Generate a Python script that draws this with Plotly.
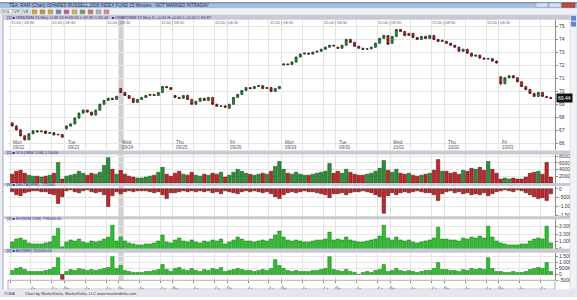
import plotly.graph_objects as go

W, H = 577, 300

# ---------------- data ----------------
day_names = ["Mon", "Tue", "Wed", "Thu", "Fri", "Mon", "Tue", "Wed", "Thu", "Fri"]
day_dates = ["09/22", "09/23", "09/24", "09/25", "09/26", "09/29", "09/30", "10/01", "10/02", "10/03"]
session_times = ["08:30", "09:00", "09:30", "10:00", "10:30", "11:00", "11:30",
                 "12:00", "12:30", "13:00", "13:30", "14:00", "14:30"]
grid_times = ["08:30", "11:00", "13:30"]
top_label = "15:00 | 08:30"

opens = [
    67.55, 67.31, 67.01, 66.56, 66.25, 66.71, 66.94, 66.86, 66.92, 66.74, 66.80, 66.62, 66.66,
    67.09, 67.31, 67.47, 67.92, 68.30, 68.53, 68.38, 68.15, 68.53, 68.98, 69.28, 69.44, 69.36,
    70.19, 69.89, 69.66, 69.44, 69.13, 69.36, 69.51, 69.66, 69.74, 69.66, 69.89, 70.35, 70.27,
    69.66, 69.51, 69.44, 69.66, 69.36, 68.98, 69.21, 69.44, 69.28, 69.51, 68.98, 68.83, 68.86,
    68.68, 68.98, 69.51, 69.74, 70.04, 70.27, 70.19, 70.35, 70.42, 70.19, 70.27, 69.97, 70.19,
    72.01, 72.09, 72.05, 72.24, 72.62, 72.85, 72.92, 72.85, 73.00, 73.07, 73.22, 73.38, 73.53,
    73.38, 73.30, 73.53, 73.98, 73.75, 73.45, 73.30, 73.22, 73.26, 73.38, 73.68, 74.06, 74.28,
    73.68, 74.21, 74.74, 74.59, 74.28, 74.44, 74.13, 73.98, 74.21, 74.06, 74.28, 73.98, 73.83,
    73.83, 73.68, 73.53, 73.38, 73.07, 73.22, 72.92, 72.69, 72.77, 72.54, 72.47, 72.50, 72.31,
    71.10, 70.57, 71.03, 71.18, 71.03, 70.72, 70.35, 70.12, 69.82, 69.59, 69.89, 69.59, 69.51,
]
highs = [
    67.62, 67.40, 67.08, 66.60, 66.75, 67.00, 66.98, 66.97, 66.95, 66.84, 66.83, 66.70, 66.68,
    67.36, 67.52, 67.98, 68.36, 68.60, 68.57, 68.42, 68.58, 69.04, 69.33, 69.50, 69.48, 69.64,
    70.25, 69.95, 69.70, 69.48, 69.40, 69.56, 69.70, 69.79, 69.78, 69.93, 70.41, 70.40, 70.31,
    69.72, 69.56, 69.70, 69.71, 69.40, 69.25, 69.49, 69.48, 69.56, 69.55, 69.03, 68.91, 68.90,
    69.03, 69.56, 69.79, 70.09, 70.32, 70.31, 70.40, 70.47, 70.46, 70.32, 70.31, 70.24, 70.40,
    72.14, 72.13, 72.29, 72.67, 72.90, 72.97, 72.96, 73.05, 73.12, 73.27, 73.43, 73.58, 73.57,
    73.43, 73.58, 74.03, 74.04, 73.80, 73.50, 73.35, 73.30, 73.42, 73.73, 74.11, 74.34, 74.32,
    74.26, 74.80, 74.79, 74.64, 74.49, 74.49, 74.18, 74.26, 74.26, 74.33, 74.33, 74.03, 73.96,
    73.88, 73.73, 73.58, 73.43, 73.27, 73.27, 72.97, 72.82, 72.82, 72.59, 72.55, 72.55, 72.36,
    71.15, 71.08, 71.23, 71.23, 71.08, 70.77, 70.40, 70.17, 69.87, 69.94, 69.94, 69.64, 69.56,
]
lows = [
    67.28, 66.97, 66.50, 66.18, 66.22, 66.68, 66.82, 66.83, 66.70, 66.71, 66.58, 66.60, 66.40,
    67.02, 67.25, 67.42, 67.88, 68.26, 68.33, 68.10, 68.12, 68.49, 68.94, 69.24, 69.31, 69.33,
    69.85, 69.61, 69.40, 69.07, 69.09, 69.32, 69.47, 69.62, 69.61, 69.62, 69.85, 70.22, 70.07,
    69.46, 69.39, 69.40, 69.31, 68.93, 68.94, 69.17, 69.23, 69.24, 68.93, 68.78, 68.79, 68.70,
    68.62, 68.93, 69.46, 69.70, 70.00, 70.15, 70.15, 70.31, 70.15, 70.15, 69.92, 69.93, 70.14,
    71.96, 72.00, 72.01, 72.20, 72.58, 72.81, 72.81, 72.81, 72.96, 73.03, 73.18, 73.34, 73.44,
    73.25, 73.26, 73.49, 73.70, 73.40, 73.25, 73.17, 73.18, 73.22, 73.34, 73.63, 74.02, 73.55,
    73.63, 74.16, 74.54, 74.23, 74.24, 74.08, 73.93, 73.93, 74.01, 74.01, 73.93, 73.78, 73.78,
    73.63, 73.48, 73.33, 73.02, 73.02, 72.87, 72.64, 72.64, 72.49, 72.42, 72.42, 72.26, 72.11,
    70.45, 70.52, 70.98, 70.98, 70.67, 70.30, 70.07, 69.77, 69.54, 69.54, 69.54, 69.46, 69.39,
]
closes = [
    67.31, 67.01, 66.56, 66.25, 66.71, 66.94, 66.86, 66.92, 66.74, 66.80, 66.62, 66.66, 66.45,
    67.31, 67.47, 67.92, 68.30, 68.53, 68.38, 68.15, 68.53, 68.98, 69.28, 69.44, 69.36, 69.59,
    69.89, 69.66, 69.44, 69.13, 69.36, 69.51, 69.66, 69.74, 69.66, 69.89, 70.35, 70.27, 70.12,
    69.51, 69.44, 69.66, 69.36, 68.98, 69.21, 69.44, 69.28, 69.51, 68.98, 68.83, 68.86, 68.75,
    68.98, 69.51, 69.74, 70.04, 70.27, 70.19, 70.35, 70.42, 70.19, 70.27, 69.97, 70.19, 70.35,
    72.09, 72.05, 72.24, 72.62, 72.85, 72.92, 72.85, 73.00, 73.07, 73.22, 73.38, 73.53, 73.48,
    73.30, 73.53, 73.98, 73.75, 73.45, 73.30, 73.22, 73.26, 73.38, 73.68, 74.06, 74.28, 73.60,
    74.21, 74.74, 74.59, 74.28, 74.44, 74.13, 73.98, 74.21, 74.06, 74.28, 73.98, 73.83, 73.91,
    73.68, 73.53, 73.38, 73.07, 73.22, 72.92, 72.69, 72.77, 72.54, 72.47, 72.50, 72.31, 72.16,
    70.57, 71.03, 71.18, 71.03, 70.72, 70.35, 70.12, 69.82, 69.59, 69.89, 69.59, 69.51, 69.44,
]
volume = [
    261000, 348000, 377000, 290000, 232000, 203000, 203000, 174000, 203000, 232000, 290000, 609000, 116000,
    203000, 232000, 261000, 348000, 290000, 232000, 290000, 261000, 319000, 522000, 754000, 406000, 261000,
    377000, 261000, 203000, 174000, 145000, 145000, 174000, 203000, 232000, 319000, 464000, 261000, 203000,
    290000, 348000, 261000, 232000, 319000, 232000, 203000, 261000, 232000, 290000, 261000, 319000, 174000,
    232000, 319000, 406000, 348000, 290000, 261000, 232000, 261000, 290000, 261000, 348000, 493000, 638000,
    406000, 290000, 261000, 319000, 261000, 232000, 232000, 261000, 290000, 319000, 348000, 580000, 290000,
    348000, 290000, 406000, 319000, 261000, 232000, 232000, 261000, 290000, 348000, 435000, 667000, 377000,
    319000, 406000, 290000, 261000, 290000, 232000, 203000, 232000, 261000, 290000, 377000, 696000, 348000,
    348000, 290000, 319000, 261000, 377000, 348000, 435000, 406000, 464000, 377000, 638000, 406000, 290000,
    116000, 145000, 116000, 145000, 116000, 116000, 174000, 290000, 319000, 348000, 261000, 609000, 174000,
]
delta = [
    -165000, -330000, -385000, -220000, -165000, -110000, -110000, -165000, -165000, -275000, -330000, -825000, -440000,
    -110000, -55000, -165000, -220000, -110000, -55000, -165000, -220000, -165000, -330000, -990000, -385000, -165000,
    -275000, -165000, -110000, -165000, -110000, -110000, -110000, -165000, -220000, -165000, -330000, -550000, -220000,
    -220000, -165000, -110000, -165000, -110000, -165000, -110000, -165000, -110000, -220000, -165000, -275000, -110000,
    -165000, -220000, -275000, -165000, -110000, -165000, -110000, -165000, -220000, -165000, -275000, -440000, -550000,
    -330000, -220000, -165000, -220000, -165000, -110000, -165000, -165000, -220000, -275000, -330000, -495000, -275000,
    -275000, -220000, -330000, -220000, -165000, -165000, -110000, -165000, -220000, -330000, -440000, -1375000, -385000,
    -220000, -330000, -220000, -165000, -220000, -165000, -110000, -165000, -220000, -220000, -330000, -660000, -275000,
    -165000, -110000, -220000, -165000, -275000, -220000, -330000, -275000, -330000, -220000, -385000, -275000, -165000,
    -110000, -55000, -110000, -165000, -55000, -110000, -220000, -330000, -440000, -550000, -495000, -660000, -275000,
]
bid_vol = [
    931000, 1330000, 1463000, 1197000, 798000, 665000, 665000, 665000, 798000, 931000, 1729000, 2793000, 266000,
    931000, 1197000, 1064000, 1330000, 931000, 798000, 1064000, 931000, 1064000, 1330000, 1596000, 3192000, 1064000,
    1596000, 1064000, 798000, 665000, 532000, 532000, 665000, 665000, 798000, 1064000, 1862000, 931000, 798000,
    1197000, 1463000, 1064000, 931000, 1197000, 931000, 798000, 1064000, 931000, 1197000, 1064000, 1330000, 665000,
    931000, 1197000, 1596000, 1330000, 1064000, 1064000, 931000, 1064000, 1197000, 1064000, 1330000, 1862000, 2394000,
    1596000, 1197000, 1064000, 1197000, 1064000, 931000, 931000, 1064000, 1197000, 1197000, 1330000, 2261000, 1197000,
    1330000, 1197000, 1596000, 1197000, 1064000, 931000, 931000, 1064000, 1197000, 1330000, 1729000, 3192000, 1463000,
    1197000, 1596000, 1197000, 1064000, 1197000, 931000, 798000, 931000, 1064000, 1197000, 1463000, 2926000, 1330000,
    1330000, 1197000, 1197000, 1064000, 1463000, 1330000, 1596000, 1463000, 1729000, 1463000, 3059000, 1596000, 1064000,
    798000, 665000, 532000, 532000, 532000, 665000, 665000, 1064000, 1330000, 1463000, 1330000, 3059000, 798000,
]
ask_vol = [
    333000, 500000, 583000, 416000, 250000, 250000, 250000, 250000, 333000, 416000, 583000, 1416000, -416000,
    250000, 416000, 333000, 500000, 416000, 333000, 416000, 333000, 416000, 500000, 583000, 1500000, 500000,
    750000, 333000, 250000, 167000, 167000, 167000, 250000, 250000, 333000, 416000, 833000, 416000, 250000,
    500000, 583000, 416000, 333000, 500000, 333000, 250000, 416000, 333000, 500000, 416000, 583000, 250000,
    333000, 416000, 500000, 416000, 333000, 333000, 250000, 333000, 416000, 333000, 500000, 1250000, 750000,
    500000, 333000, 250000, 333000, 250000, 250000, 250000, 333000, 333000, 416000, 500000, 1500000, 416000,
    333000, 250000, 416000, 250000, 167000, 0, 167000, 250000, 167000, 333000, 416000, 833000, 250000,
    333000, 500000, 333000, 250000, 333000, 250000, 167000, 250000, 333000, 333000, 500000, 1000000, 416000,
    416000, 333000, 333000, 250000, 416000, 333000, 500000, 416000, 500000, 416000, 1416000, 500000, 250000,
    250000, 167000, 167000, 250000, 167000, 167000, 250000, 416000, 500000, 583000, 500000, 1000000, 250000,
]

price_ticks = [66, 67, 68, 69, 70, 71, 72, 73, 74, 75]
vol_ticks = [200000, 400000, 600000, 800000]
delta_ticks = [0, -500000, -1000000, -1500000]
delta_labels = ["0", "-500K", "-1.00M", "-1.50M"]
bid_ticks = [0, 1000000, 2000000, 3000000]
bid_labels = ["0", "1.00M", "2.00M", "3.00M"]
ask_ticks = [-500000, 0, 500000, 1000000, 1500000]
ask_labels = ["-500K", "0", "500K", "1.00M", "1.50M"]

title_text = "TEA: RAM (Chart) ISHARES RUSSELL 2000 INDEX FUND 15 Minutes - NOT MARKED INTRADAY"
headers = [
    "[1] \u25a0 IWM(IWM 15 Min) O:69.51 H:69.56 L:69.39 C:69.44   \u25a0 VWAP(IWM 15 Min) D:+0.00 H:+0.00 L:+0.00 C:69.87",
    "[2] \u25a0 VOL(IWM 15M) 174000",
    "[3] \u25a0 DELTA(IWM) -275000",
    "[4] \u25a0 BV(IWM 15M) 798000.00",
    "[5] \u25a0 AV(IWM) 250000.00",
]
footer_left = "TCEA"
footer_text = "Chart by MarketDelta, MarketDelta, LLC www.marketdelta.com"

# ---------------- geometry helpers ----------------
n_per_day = len(session_times)
n_bars = len(closes)
xs = list(range(n_bars))


def fx(px):
    return px / W


def fy(py):
    return 1 - py / H


X0, X1 = 8, 555
panels = [(18, 150), (155, 184), (187, 218), (221, 251), (255, 283)]
header_rows = [(13, 18), (151, 155), (184, 187), (218, 221), (251, 255)]

grid_vals, grid_text = [], []
for d in range(len(day_names)):
    for t in grid_times:
        grid_vals.append(d * n_per_day + session_times.index(t) - 0.5)
        grid_text.append("" if (d == 0 and t == "08:30") else t)

UP_FILL, UP_LINE = "#2f8f36", "#12401a"
DN_FILL, DN_LINE = "#c0282d", "#4d0a0c"
GR_FILL, GR_LINE = "#2fc02f", "#167016"

fig = go.Figure()

fig.add_trace(go.Candlestick(
    x=xs, open=opens, high=highs, low=lows, close=closes,
    increasing=dict(fillcolor=UP_FILL, line=dict(color=UP_LINE, width=0.7)),
    decreasing=dict(fillcolor=DN_FILL, line=dict(color=DN_LINE, width=0.7)),
    whiskerwidth=0, xaxis="x", yaxis="y", showlegend=False, hoverinfo="skip"))

vol_colors = [UP_FILL if c >= o else DN_FILL for o, c in zip(opens, closes)]
vol_lines = [UP_LINE if c >= o else DN_LINE for o, c in zip(opens, closes)]
fig.add_trace(go.Bar(x=xs, y=volume, marker=dict(color=vol_colors, line=dict(color=vol_lines, width=0.5)),
                     xaxis="x2", yaxis="y2", showlegend=False, hoverinfo="skip"))
fig.add_trace(go.Bar(x=xs, y=delta, marker=dict(color=DN_FILL, line=dict(color=DN_LINE, width=0.5)),
                     xaxis="x3", yaxis="y3", showlegend=False, hoverinfo="skip"))
fig.add_trace(go.Bar(x=xs, y=bid_vol, marker=dict(color=GR_FILL, line=dict(color=GR_LINE, width=0.5)),
                     xaxis="x4", yaxis="y4", showlegend=False, hoverinfo="skip"))
ask_colors = [GR_FILL if v >= 0 else DN_FILL for v in ask_vol]
ask_lines = [GR_LINE if v >= 0 else DN_LINE for v in ask_vol]
fig.add_trace(go.Bar(x=xs, y=ask_vol, marker=dict(color=ask_colors, line=dict(color=ask_lines, width=0.5)),
                     xaxis="x5", yaxis="y5", showlegend=False, hoverinfo="skip"))

tick_font = dict(family="Arial, Liberation Sans, sans-serif", size=5, color="#333333")
xr = [-1.0, n_bars]
layout = dict(
    width=W, height=H, margin=dict(l=0, r=0, t=0, b=0),
    paper_bgcolor="white", plot_bgcolor="white",
    bargap=0.18, showlegend=False,
    font=dict(family="Arial, Liberation Sans, sans-serif", size=5, color="#333333"),
)

yspecs = [
    dict(range=[65.5, 75.5], tickvals=price_ticks, ticktext=[str(v) for v in price_ticks]),
    dict(range=[0, 850000], tickvals=vol_ticks, ticktext=[str(v) for v in vol_ticks]),
    dict(range=[-1550000, 167000], tickvals=delta_ticks, ticktext=delta_labels),
    dict(range=[0, 3990000], tickvals=bid_ticks, ticktext=bid_labels),
    dict(range=[-500000, 1833000], tickvals=ask_ticks, ticktext=ask_labels),
]
for i, ((top, bot), ys) in enumerate(zip(panels, yspecs)):
    k = "" if i == 0 else str(i + 1)
    layout["xaxis" + k] = dict(
        domain=[fx(X0), fx(X1)], range=xr, anchor="y" + k,
        tickvals=grid_vals, ticktext=grid_text,
        showticklabels=(i == 4), ticks="outside" if i == 4 else "", ticklen=2, tickcolor="#888888",
        tickfont=tick_font, showgrid=True, gridcolor="#e3e3e3", gridwidth=1,
        zeroline=False, showline=False, fixedrange=True,
        rangeslider=dict(visible=False),
        **({} if i == 0 else dict(matches="x")),
    )
    layout["yaxis" + k] = dict(
        domain=[fy(bot), fy(top)], anchor="x" + k, side="right",
        showgrid=True, gridcolor="#e6e6e6", gridwidth=1, zeroline=False,
        showline=True, linecolor="#8a8a8a", linewidth=1,
        ticks="outside", ticklen=2, tickcolor="#8a8a8a", tickfont=tick_font,
        fixedrange=True, **ys,
    )

shapes = []
annotations = []


def rect(x0, y0, x1, y1, fill, line=None, lw=0, layer="above"):
    shapes.append(dict(type="rect", xref="paper", yref="paper",
                       x0=fx(x0), x1=fx(x1), y0=fy(y1), y1=fy(y0),
                       fillcolor=fill, line=dict(color=line or fill, width=lw), layer=layer))


def text(x, y, s, size=5, color="#222222", xanchor="left", bg=None):
    annotations.append(dict(xref="paper", yref="paper", x=fx(x), y=fy(y), text=s,
                            showarrow=False, xanchor=xanchor, yanchor="middle",
                            font=dict(size=size, color=color, family="Arial, Liberation Sans, sans-serif"),
                            bgcolor=bg, borderpad=0))


# window chrome: title bar and toolbar
rect(0, 0, W, 6.5, "#a9bfdc")
rect(0, 0, W, 1.5, "#7f9cc4")
text(8, 3.4, title_text, size=4.5, color="#1b2a44")
rect(536, 1, 548, 5.5, "#d6e0ee", "#7d93b5", 0.5)
rect(549, 1, 561, 5.5, "#d6e0ee", "#7d93b5", 0.5)
rect(562, 1, 575, 5.5, "#c8463c", "#8a2a22", 0.5)
rect(0, 6.5, W, 13, "#eef1f6")
for (bx0, bx1, lbl) in [(1, 12, "VOL"), (13, 21, "VR"), (22, 30, "VB")]:
    rect(bx0, 7.5, bx1, 12.3, "#f8f8f8", "#8e9aaa", 0.5)
    text((bx0 + bx1) / 2, 10, lbl, size=4, color="#222", xanchor="center")
icon_colors = ["#e0a030", "#d08a40", "#caa84a", "#6a86c8", "#c06090", "#e2b43c", "#7aa05a", "#d07a50", "#b0b0d0", "#e08a8a"]
for j, c in enumerate(icon_colors):
    rect(32 + j * 8, 8, 37 + j * 8, 12, c, "#7a7a7a", 0.4)

# left border & right scrollbar
rect(0, 13, 3, 292, "#e9edf3")
shapes.append(dict(type="line", xref="paper", yref="paper", x0=fx(3), x1=fx(3), y0=fy(13), y1=fy(292),
                   line=dict(color="#9aa6b6", width=1)))
rect(570, 13, W, 292, "#f0f2f6", "#c5cbd6", 0.5)
rect(571, 14, 576, 19, "#5f86d2")
rect(571, 20, 576, 25, "#5f86d2")

# panel header rows
for (t, b), h in zip(header_rows, headers):
    rect(3, t, 570, b, "#c9c9d3")
    text(6, (t + b) / 2 + 0.2, h, size=4, color="#2a2a9a")

# highlighted session band (Wed 09/24)
band_day = day_dates.index("09/24")
shapes.append(dict(type="rect", xref="x", yref="paper",
                   x0=band_day * n_per_day - 0.5, x1=band_day * n_per_day + 0.7,
                   y0=fy(283), y1=fy(18), fillcolor="#d2d2d2", line=dict(width=0), layer="below"))

# bottom axis strip & footer
shapes.append(dict(type="rect", xref="paper", yref="paper", x0=fx(X0), x1=fx(X1), y0=fy(292), y1=fy(283),
                   line=dict(color="#9a9a9a", width=0.8), fillcolor="rgba(0,0,0,0)"))
rect(0, 292, W, H, "#e4e8ee")
text(3, 296, footer_left, size=4, color="#333")
text(24, 296, footer_text, size=4, color="#333")

# day labels & top time labels on price panel
for d, (dn, dd) in enumerate(zip(day_names, day_dates)):
    xd = d * n_per_day - 0.5
    annotations.append(dict(xref="x", yref="paper", x=xd + 0.3, y=fy(142.5), text=dn, showarrow=False,
                            xanchor="left", yanchor="middle", font=dict(size=4.5, color="#555555")))
    annotations.append(dict(xref="x", yref="paper", x=xd + 0.3, y=fy(147.5), text=dd, showarrow=False,
                            xanchor="left", yanchor="middle", font=dict(size=4.5, color="#555555")))
    annotations.append(dict(xref="x", yref="paper", x=xd if d > 0 else xd - 0.3, y=fy(21), text=top_label,
                            showarrow=False, xanchor="center" if d > 0 else "left", yanchor="middle",
                            font=dict(size=4, color="#666666")))

# last price marker
annotations.append(dict(xref="paper", yref="y", x=fx(X1 + 1), y=closes[-1], text="%.2f" % closes[-1],
                        showarrow=False, xanchor="left", yanchor="middle", bgcolor="#111111",
                        font=dict(size=5, color="white"), borderpad=1))

layout["shapes"] = shapes
layout["annotations"] = annotations
fig.update_layout(**layout)
fig.write_html("out.html", config={"displayModeBar": False, "staticPlot": True})
